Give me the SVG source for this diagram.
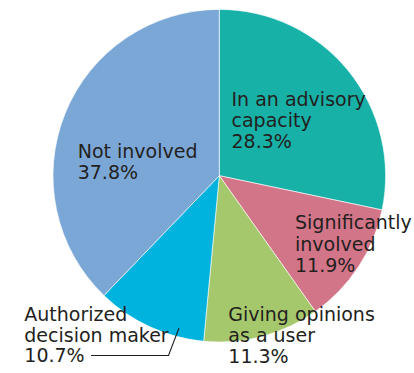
<svg xmlns="http://www.w3.org/2000/svg" width="414" height="373" viewBox="0 0 414 373">
<style>
.s{stroke:#ffffff;stroke-width:0.6;stroke-linejoin:round}
.t{font-family:"DejaVu Sans","Liberation Sans",sans-serif;font-size:19px;fill:#231f20}
.l{fill:none;stroke:#231f20;stroke-width:1.1}
</style>
<rect width="414" height="373" fill="#ffffff"/>
<g id="advisory">
<path class="s" fill="#17b1a7" d="M219.3,175.7 L219.3,9.4 A166.3,166.3 0 0 1 382.04,209.94 Z"/>
<text class="t" x="231.5" y="105.7">In an advisory</text>
<text class="t" x="231.5" y="127">capacity</text>
<text class="t" x="231.5" y="148.3">28.3%</text>
</g>
<g id="significantly">
<path class="s" fill="#d37588" d="M219.3,175.7 L382.04,209.94 A166.3,166.3 0 0 1 315.35,311.46 Z"/>
<text class="t" x="295" y="229.3">Significantly</text>
<text class="t" x="295" y="250.7">involved</text>
<text class="t" x="295" y="272">11.9%</text>
</g>
<g id="opinions">
<path class="s" fill="#a5c86c" d="M219.3,175.7 L315.35,311.46 A166.3,166.3 0 0 1 203.65,341.26 Z"/>
<text class="t" x="228.3" y="320.7">Giving opinions</text>
<text class="t" x="228.3" y="341.7">as a user</text>
<text class="t" x="228.3" y="362.5">11.3%</text>
</g>
<g id="authorized">
<path class="s" fill="#00b2de" d="M219.3,175.7 L203.65,341.26 A166.3,166.3 0 0 1 103.94,295.48 Z"/>
<text class="t" x="24.3" y="321">Authorized</text>
<text class="t" x="24.3" y="341.7">decision maker</text>
<text class="t" x="24.3" y="362">10.7%</text>
</g>
<g id="notinvolved">
<path class="s" fill="#7ba7d7" d="M219.3,175.7 L103.94,295.48 A166.3,166.3 0 0 1 219.3,9.4 Z"/>
<text class="t" x="77.7" y="157.7">Not involved</text>
<text class="t" x="77.7" y="178.5">37.8%</text>
</g>
<g id="connectors">
<polyline class="l" points="91,355.5 168.5,355.5 179,328"/>
</g>
</svg>
